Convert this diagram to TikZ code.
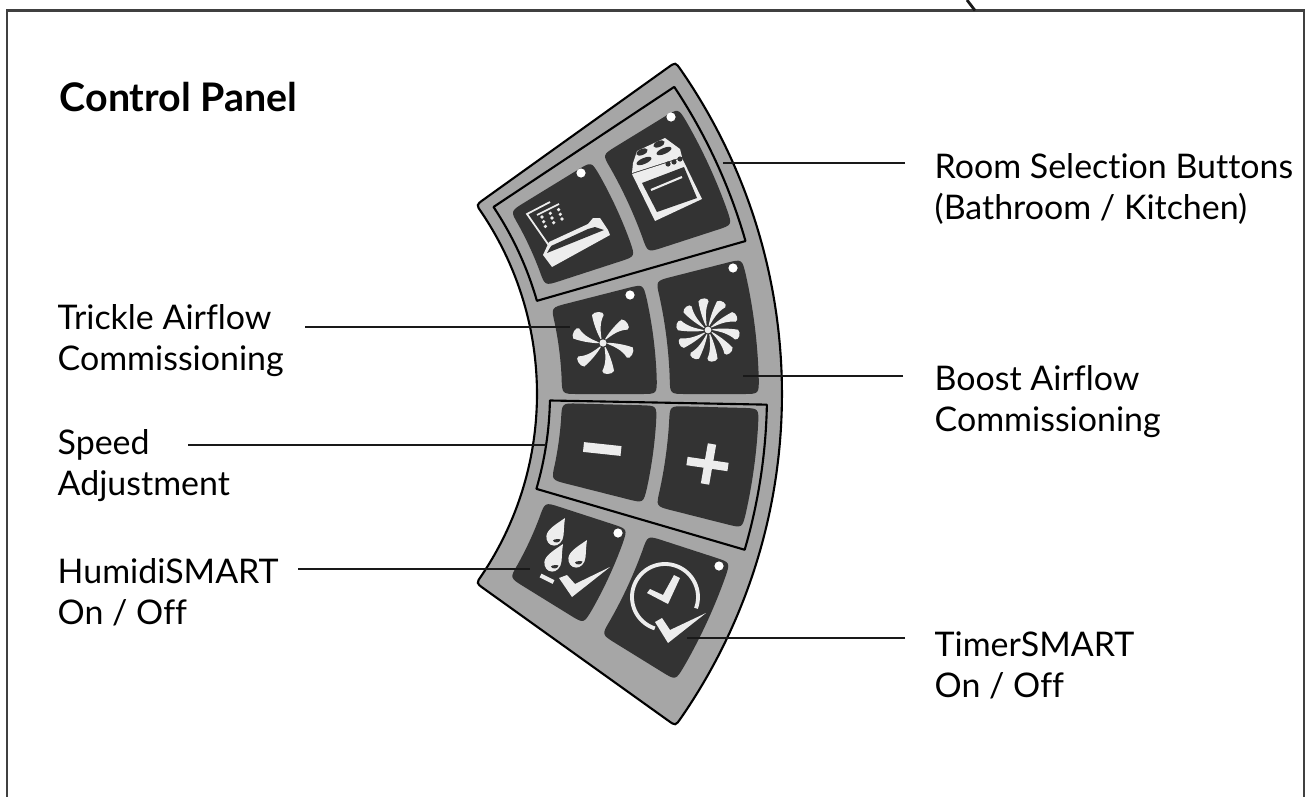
\documentclass[tikz,border=0pt]{standalone}
\usepackage{fontspec}
\setmainfont[Ligatures=NoCommon]{Lato}
\usetikzlibrary{calc}
\definecolor{panelgray}{HTML}{A6A6A6}
\definecolor{btndark}{HTML}{333333}
\definecolor{iconlight}{HTML}{EDEDED}
\tikzset{
  frame/.style   = {line width=0.6pt, draw=black!75},
  leader/.style  = {line width=0.8pt, draw=black!90},
  outline/.style = {line width=0.6pt, draw=black, fill=panelgray},
  grp/.style     = {line width=0.6pt, draw=black},
  btn/.style     = {fill=btndark},
  lbl/.style     = {anchor=north west, align=left, inner sep=0pt,
                    font=\fontsize{9.65pt}{11.7pt}\selectfont},
  ttl/.style     = {anchor=base west, inner sep=0pt,
                    font=\fontsize{11.2pt}{12pt}\selectfont\bfseries},
  icon/.style    = {fill=iconlight},
  hole/.style    = {fill=btndark},
  led/.style     = {fill=white},
  stroke/.style  = {draw=iconlight, line width=#1},
}
% style, corner size, inner and outer radius, first and last angle
\newcommand{\sect}[6]{%
  \pgfmathsetmacro{\da}{#2*57.3/#3}%
  \pgfmathsetmacro{\db}{#2*57.3/#4}%
  \pgfmathsetmacro{\ra}{#3+#2}%
  \pgfmathsetmacro{\rb}{#4-#2}%
  \pgfmathsetmacro{\sa}{#5-\da}%
  \pgfmathsetmacro{\ea}{#6+\da}%
  \pgfmathsetmacro{\sb}{#5-\db}%
  \pgfmathsetmacro{\eb}{#6+\db}%
  \path[#1] (#5:\ra) -- (#5:\rb) .. controls (#5:#4) .. (\sb:#4)
    arc[start angle=\sb,end angle=\eb,radius=#4]
    .. controls (#6:#4) .. (#6:\rb) -- (#6:\ra) .. controls (#6:#3) .. (\ea:#3)
    arc[start angle=\ea,end angle=\sa,radius=#3]
    .. controls (#5:#3) .. (#5:\ra) -- cycle;}
\newcommand{\blade}{(-1.5,-4) .. controls (-2.5,-12) and (-3.5,-20) .. (0.7,-28)
  .. controls (1,-32) and (-9,-32) .. (-11,-28)
  .. controls (-10,-22) and (-7,-12) .. (-2.5,-4) -- cycle}
\newcommand{\drop}[2]{%
  \begin{scope}[shift={(#1,#2)}]
    \fill[icon] (10,-19) .. controls (9,-12) and (9,-9) .. (8.6,-2)
      .. controls (8,5) and (3,9) .. (-1,8.6)
      .. controls (-6,8.5) and (-9,4) .. (-8.6,-1)
      .. controls (-8,-8) and (3,-14) .. (10,-19) -- cycle;
    \fill[hole] (-2,3.5) .. controls (-1,1.8) and (5,1.8) .. (5.5,2.6)
      .. controls (5,6) and (-1,6.5) .. (-2,3.5) -- cycle;
  \end{scope}}

\begin{document}
\begin{tikzpicture}[x=0.01cm,y=-0.01cm]
  \useasboundingbox (0,0) rectangle (1312,797);

  % outer frame
  \coordinate (fbl) at (7,797);
  \coordinate (ftl) at (7,10.5);
  \coordinate (ftr) at (1304,10.5);
  \coordinate (fbr) at (1304,797);
  \draw[frame] (fbl) -- (ftl) -- (ftr) -- (fbr);
  \coordinate (ta) at (967,0);
  \coordinate (tb) at (975,10.5);
  \draw[leader] (ta) -- (tb);

  % panel, groups and buttons share one centre
  \begin{scope}[shift={(212,394)},y=0.01cm]
    \sect{outline}{9}{325}{570}{35.6}{-35.6}
    \sect{grp}{0.5}{338}{555}{33.6}{16}
    \sect{grp}{0.5}{338}{555}{-1.1}{-16.3}
    \sect{btn}{16}{350}{445}{31.5}{18}
    \sect{btn}{16}{458}{547}{31.5}{18}
    \sect{btn}{16}{350}{445}{14.3}{0}
    \sect{btn}{16}{458}{547}{14.3}{0}
    \sect{btn}{16}{350}{445}{-1.5}{-14.2}
    \sect{btn}{16}{458}{547}{-1.5}{-14.2}
    \sect{btn}{16}{350}{437}{-18}{-31.7}
    \sect{btn}{16}{458}{545}{-18}{-31.7}
  \end{scope}

  % indicator lights
  \foreach \lx/\ly in {581/173,671/117,630/295,733/268,618/533,719/566}
    \fill[led] (\lx,\ly) circle[radius=4.6];

  % bathroom
  \fill[icon] (543,255) -- (549,242) -- (588,224) -- (593,218) -- (600,218)
    -- (608,230) -- (610,235) -- (552,267) -- cycle;
  \fill[hole] (551,246) -- (588,229) -- (595,227) -- (604,230) -- (547,253) -- cycle;
  \draw[stroke=0.5pt] (550,247) -- (527,214) -- (550,202);
  \draw[stroke=0.5pt] (537,215) -- (559,204);
  \foreach \cc in {0,1,2}
    \foreach \rr in {0,1,2}
      \fill[icon] ({542+8.3*\cc+1.7*\rr},{217-3.7*\cc+4.7*\rr}) circle[radius=1.8];

  % kitchen
  \fill[icon] (637,151) -- (665,138) -- (680,149) -- (682,157) -- (632,173) -- (633,163) -- cycle;
  \fill[icon] (632,174) -- (682,158) -- (702,199) -- (655,221) -- cycle;
  \foreach \hx/\hy/\hr in {642/152/6,659/144/6,644/161/8,664/151/8}
    \fill[hole] (\hx,\hy) ellipse[x radius=\hr,y radius=3,rotate=23];
  \foreach \kx/\ky in {668/164,674/162,680/159}
    \fill[hole] (\kx,\ky) circle[radius=2.6];
  \fill[hole] (642,183) -- (684,167) -- (697,198) -- (657,212) -- cycle;
  \draw[stroke=0.6pt] (651,190) -- (682,177);

  % trickle and boost fans
  \foreach \bb in {0,60,...,300}
    \fill[icon,shift={(603,343)},rotate=\bb] \blade;
  \fill[icon] (603,343) circle[radius=3.6];
  \foreach \bb in {0,36,...,324}
    \fill[icon,shift={(708,330)},rotate=\bb,scale=1.02,xscale=0.85] \blade;
  \fill[icon] (708,330) circle[radius=3.4];

  % minus and plus
  \draw[stroke=2.8pt] (583.5,447) -- (621,451);
  \draw[stroke=2.4pt] (687,461) -- (728,467);
  \draw[stroke=2.4pt] (712,444) -- (705,484);

  % humidity
  \drop{555}{537}
  \drop{553}{563}
  \drop{577}{559}
  \draw[stroke=1.2pt] (540.5,575.5) -- (553.5,582);
  \fill[icon] (559,578) -- (567,575) -- (575,584) -- (610,567) -- (572,597) -- cycle;

  % timer
  \draw[stroke=1.1pt] plot[domain=20:-252,samples=70] ({665+33*cos(\x)},{597+33*sin(\x)});
  \fill[icon] (647,593) -- (650,589) -- (663,595) -- (674,575) -- (680,578) -- (668,604) -- cycle;
  \fill[icon] (655,622) -- (662,618) -- (670,630) -- (706,613) -- (668,643) -- cycle;

  % labels
  \node[ttl] (title) at (59,111) {Control Panel};
  \node[lbl] (room) at (934,153) {Room Selection Buttons\\(Bathroom / Kitchen)};
  \node[lbl] (trickle) at (57,304) {Trickle Airflow\\Commissioning};
  \node[lbl] (boost) at (934,365) {Boost Airflow\\Commissioning};
  \node[lbl] (speed) at (57,429) {Speed\\Adjustment};
  \node[lbl] (humidi) at (57,558) {HumidiSMART\\On / Off};
  \node[lbl] (timer) at (934,631) {TimerSMART\\On / Off};

  % leaders
  \coordinate (roomfrom) at (905,163);     \coordinate (roomto) at (723,163);
  \coordinate (tricklefrom) at (305,327);  \coordinate (trickleto) at (570,327);
  \coordinate (boostfrom) at (903,376);    \coordinate (boostto) at (743,376);
  \coordinate (speedfrom) at (188,445);    \coordinate (speedto) at (546,445);
  \coordinate (humidifrom) at (298,569);   \coordinate (humidito) at (530,569);
  \coordinate (timerfrom) at (905,638);    \coordinate (timerto) at (687,638);
  \draw[leader] (roomfrom) -- (roomto);
  \draw[leader] (tricklefrom) -- (trickleto);
  \draw[leader] (boostfrom) -- (boostto);
  \draw[leader] (speedfrom) -- (speedto);
  \draw[leader] (humidifrom) -- (humidito);
  \draw[leader] (timerfrom) -- (timerto);
\end{tikzpicture}
\end{document}
